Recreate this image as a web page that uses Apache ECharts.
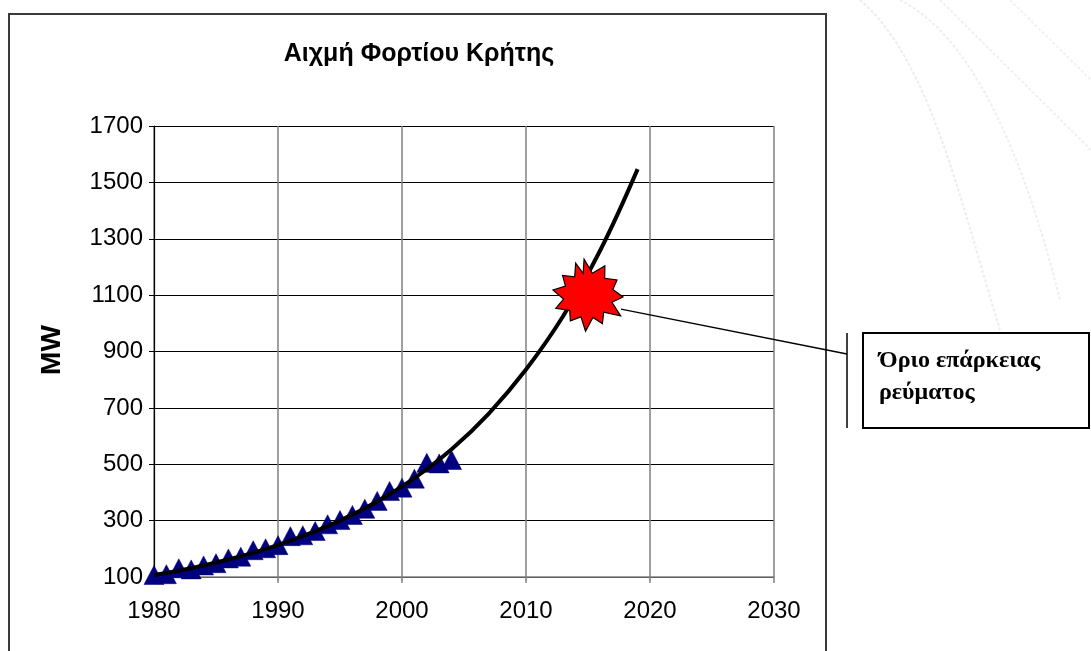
<!DOCTYPE html>
<html>
<head>
<meta charset="utf-8">
<script src="https://cdn.jsdelivr.net/npm/echarts@6/dist/echarts.min.js"></script>
<style>
  html, body { margin: 0; padding: 0; background: #ffffff; }
  #chart { width: 1091px; height: 651px; }
</style>
</head>
<body>
<div id="chart"></div>
<script>
// Peak load of Crete (MW), measured years
const years = [1980, 1981, 1982, 1983, 1984, 1985, 1986, 1987, 1988, 1989, 1990, 1991, 1992,
               1993, 1994, 1995, 1996, 1997, 1998, 1999, 2000, 2001, 2002, 2003, 2004];
const peakLoad = [107, 110, 131, 127, 141, 149, 166, 172, 195, 202, 213, 245, 248,
                  263, 287, 302, 320, 342, 370, 405, 417, 449, 505, 503, 515];

// Trend curve through the data and its projection
const trendYears  = [1980, 1983, 1986, 1989, 1992, 1995, 1998, 2001, 2004, 2007, 2010, 2013, 2016, 2019];
const trendValues = [107, 131, 162, 199, 245, 300, 368, 451, 553, 680, 836, 1026, 1260, 1547];

// Supply adequacy limit marker
const limitPoint = [2015, 1100];
const limitLabel = ['Όριο επάρκειας', 'ρεύματος'];

// Axis ticks
const xTicks = [1980, 1990, 2000, 2010, 2020, 2030];
const yTicks = [100, 300, 500, 700, 900, 1100, 1300, 1500, 1700];

const titleText = 'Αιχμή Φορτίου Κρήτης';
const yName = 'MW';

// Explosion outline: spike tips alternate with notches, [angle in degrees, radius 0..1]
const burstOutline = [
  [-96, 1.0], [-80, 0.62], [-62, 0.92], [-48, 0.64], [-30, 0.86], [-15, 0.66], [2, 0.9],
  [16, 0.64], [33, 1.0], [48, 0.6], [64, 0.84], [78, 0.6], [94, 0.96], [108, 0.6],
  [124, 0.82], [140, 0.62], [158, 0.9], [172, 0.64], [190, 0.92], [204, 0.64],
  [220, 0.86], [236, 0.62], [250, 0.94], [258, 0.62]
];
const explosionPath = 'path://' + burstOutline.map((pt, i) => {
  const a = pt[0] * Math.PI / 180;
  const x = (50 + 50 * pt[1] * Math.cos(a)).toFixed(2);
  const y = (50 + 50 * pt[1] * Math.sin(a)).toFixed(2);
  return (i === 0 ? 'M' : 'L') + x + ',' + y;
}).join(' ') + ' Z';

const chart = echarts.init(document.getElementById('chart'), null, { renderer: 'canvas' });

const SANS = '"Liberation Sans", Arial, sans-serif';
const SERIF = '"Liberation Serif", "Times New Roman", serif';

const option = {
  animation: false,
  backgroundColor: '#ffffff',
  title: {
    text: titleText,
    left: 414,
    top: 37,
    textAlign: 'center',
    textStyle: { fontFamily: SANS, fontWeight: 'bold', fontSize: 25, color: '#000' }
  },
  grid: { left: 154, top: 126, width: 620, height: 451, containLabel: false },
  xAxis: {
    type: 'value',
    min: xTicks[0],
    max: xTicks[xTicks.length - 1],
    interval: 10,
    axisLine: { show: true, lineStyle: { color: '#808080', width: 1.5 } },
    axisTick: { show: true, inside: false, length: 6, lineStyle: { color: '#808080', width: 1.5 } },
    axisLabel: { margin: 22, fontFamily: SANS, fontSize: 24, color: '#000', formatter: v => String(v) },
    splitLine: { show: true, lineStyle: { color: '#7f7f7f', width: 1.5 } }
  },
  yAxis: {
    type: 'value',
    min: yTicks[0],
    max: yTicks[yTicks.length - 1],
    interval: 200,
    axisLine: { show: true, lineStyle: { color: '#000', width: 1.2 } },
    axisTick: { show: true, inside: false, length: 5, lineStyle: { color: '#000', width: 1 } },
    axisLabel: { margin: 11, fontFamily: SANS, fontSize: 24, color: '#000', formatter: v => String(v) },
    splitLine: { show: true, lineStyle: { color: '#000', width: 1 } }
  },
  series: [
    {
      name: 'peak',
      type: 'scatter',
      data: years.map((y, i) => [y, peakLoad[i]]),
      symbol: 'triangle',
      symbolSize: [20, 19],
      itemStyle: { color: '#000080', borderColor: '#000070', borderWidth: 0.5, opacity: 1 },
      z: 3
    },
    {
      name: 'trend',
      type: 'line',
      data: trendYears.map((y, i) => [y, trendValues[i]]),
      smooth: 0.4,
      showSymbol: false,
      symbol: 'none',
      lineStyle: { color: '#000', width: 4 },
      z: 4
    },
    {
      name: 'limit',
      type: 'scatter',
      data: [limitPoint],
      symbol: explosionPath,
      symbolSize: [70, 72],
      itemStyle: { color: '#ff0000', borderColor: '#000', borderWidth: 1.2, opacity: 1 },
      z: 5
    }
  ]
};

chart.setOption(option);

// Annotation: leader line from the marker to the text box
const p = chart.convertToPixel({ gridIndex: 0 }, limitPoint);
chart.setOption({
  graphic: [
    // outer chart frame
    { type: 'rect', shape: { x: 9, y: 14, width: 817, height: 700 },
      style: { fill: null, stroke: '#3a3a3a', lineWidth: 2 }, z: 0, silent: true },
    // faint background strokes at the upper right
    { type: 'bezierCurve', shape: { x1: 860, y1: 0, x2: 1000, y2: 330, cpx1: 930, cpy1: 60, cpx2: 960, cpy2: 200 },
      style: { stroke: '#ededed', lineWidth: 2, lineDash: [3, 2] }, silent: true },
    { type: 'bezierCurve', shape: { x1: 900, y1: 0, x2: 1060, y2: 300, cpx1: 980, cpy1: 40, cpx2: 1030, cpy2: 180 },
      style: { stroke: '#efefef', lineWidth: 2, lineDash: [3, 2] }, silent: true },
    { type: 'line', shape: { x1: 940, y1: 0, x2: 1091, y2: 150 },
      style: { stroke: '#f0f0f0', lineWidth: 2, lineDash: [3, 2] }, silent: true },
    { type: 'line', shape: { x1: 1010, y1: 0, x2: 1091, y2: 80 },
      style: { stroke: '#f2f2f2', lineWidth: 2, lineDash: [3, 2] }, silent: true },
    // leader line
    { type: 'line', shape: { x1: p[0] + 33, y1: p[1] + 14, x2: 847, y2: 354 },
      style: { stroke: '#000', lineWidth: 1.3 }, z: 2, silent: true },
    { type: 'line', shape: { x1: 847, y1: 333, x2: 847, y2: 428 },
      style: { stroke: '#000', lineWidth: 1.5 }, silent: true },
    // text box
    { type: 'rect', shape: { x: 863, y: 333, width: 226, height: 95 },
      style: { fill: '#fff', stroke: '#000', lineWidth: 2 }, silent: true },
    { type: 'text', x: 879, y: 361,
      style: { text: limitLabel[0], font: 'bold 24px ' + SERIF, fill: '#000', textVerticalAlign: 'middle' }, silent: true },
    { type: 'text', x: 879, y: 393,
      style: { text: limitLabel[1], font: 'bold 24px ' + SERIF, fill: '#000', textVerticalAlign: 'middle' }, silent: true },
    // y axis name
    { type: 'text', x: 52, y: 350, rotation: Math.PI / 2,
      style: { text: yName, font: 'bold 28px ' + SANS, fill: '#000', textAlign: 'center', textVerticalAlign: 'middle' }, silent: true }
  ]
});
</script>
</body>
</html>
